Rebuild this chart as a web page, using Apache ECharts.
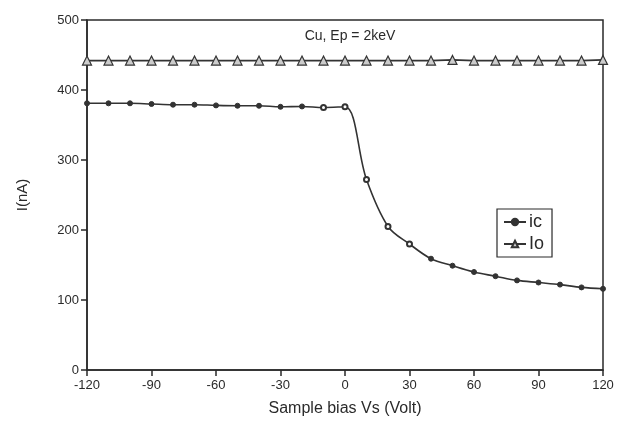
<!DOCTYPE html>
<html>
<head>
<meta charset="utf-8">
<script src="https://cdn.jsdelivr.net/npm/echarts@6/dist/echarts.min.js"></script>
<style>
html,body{margin:0;padding:0;background:#fff;}
#chart{width:624px;height:430px;}
</style>
</head>
<body>
<div id="chart"></div>
<script>
// Sample bias Vs (Volt)
var vs = [-120,-110,-100,-90,-80,-70,-60,-50,-40,-30,-20,-10,0,10,20,30,40,50,60,70,80,90,100,110,120];
// ic (nA)
var ic = [381,381,381,380,379,379,378,377.5,377.5,376,376.5,375,376,272,205,180,159,149,140,134,128,125,122,118,116];
// Io (nA)
var io = [442,442,442,442,442,442,442,442,442,442,442,442,442,442,442,442,442,443,442,442,442,442,442,442,443];
var xTicks = [-120,-90,-60,-30,0,30,60,90,120];
var yTicks = [0,100,200,300,400,500];

function pairs(xs, ys){ return xs.map(function(x,i){ return [x, ys[i]]; }); }

var chart = echarts.init(document.getElementById('chart'));
var ink = '#2a2a2a';
var font = 'Liberation Sans, Arial, sans-serif';
chart.setOption({
  animation:false,
  backgroundColor:'#fff',
  title:{
    text:'Cu, Ep = 2keV',
    left:345, top:24, textAlign:'center',
    textStyle:{fontFamily:font, fontSize:14, fontWeight:'normal', color:ink}
  },
  grid:{left:87, right:21, top:20, bottom:60, outerBoundsMode:'none', containLabel:false,
    show:true, borderColor:ink, borderWidth:1.5, backgroundColor:'transparent'},
  legend:{
    orient:'vertical', left:497, top:209,
    backgroundColor:'#fff', borderColor:ink, borderWidth:1.2, borderRadius:0,
    padding:[4,8,4,6], itemGap:4, itemWidth:22, itemHeight:8,
    textStyle:{fontFamily:font, fontSize:18, color:ink, padding:[0,0,0,-2]},
    data:['ic','Io']
  },
  xAxis:{
    type:'value', min:-120, max:120, interval:30,
    name:'Sample bias Vs (Volt)', nameLocation:'middle', nameGap:31,
    nameTextStyle:{fontFamily:font, fontSize:16, color:ink},
    axisLine:{show:true, onZero:false, lineStyle:{color:ink, width:1.5}},
    axisTick:{show:true, inside:false, length:6, lineStyle:{color:ink, width:1.5}},
    axisLabel:{fontFamily:font, fontSize:13, color:ink, margin:9,
      formatter:function(v){ return xTicks.indexOf(v) >= 0 ? String(v) : ''; }},
    splitLine:{show:false}
  },
  yAxis:{
    type:'value', min:0, max:500, interval:100,
    name:'I(nA)', nameLocation:'middle', nameGap:57, nameRotate:90,
    nameTextStyle:{fontFamily:font, fontSize:15, color:ink},
    axisLine:{show:true, onZero:false, lineStyle:{color:ink, width:1.5}},
    axisTick:{show:true, inside:false, length:6, lineStyle:{color:ink, width:1.5}},
    axisLabel:{fontFamily:font, fontSize:13, color:ink, margin:8,
      formatter:function(v){ return yTicks.indexOf(v) >= 0 ? String(v) : ''; }},
    splitLine:{show:false}
  },
  series:[
    {
      name:'ic', type:'line', data:pairs(vs, ic), smooth:0.35,
      symbol:function(val){ return (val[0] >= -10 && val[0] <= 30) ? 'emptyCircle' : 'circle'; },
      symbolSize:5,
      lineStyle:{color:'#333', width:1.6},
      itemStyle:{color:'#333', borderColor:'#333', borderWidth:1}
    },
    {
      name:'Io', type:'line', data:pairs(vs, io),
      symbol:'triangle', symbolSize:9,
      lineStyle:{color:'#333', width:1.6},
      itemStyle:{color:'#ccc', borderColor:'#333', borderWidth:1.2}
    }
  ]
});
</script>
</body>
</html>
